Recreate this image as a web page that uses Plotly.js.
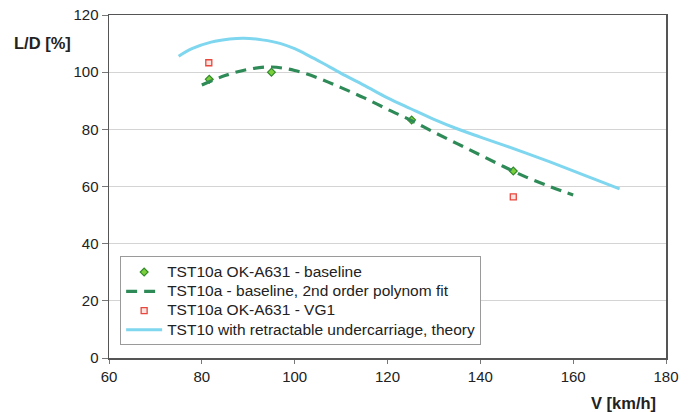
<!DOCTYPE html>
<html>
<head>
<meta charset="utf-8">
<script src="https://cdn.plot.ly/plotly-3.0.1.min.js"></script>
<style>
html,body{margin:0;padding:0;background:#fff;}
#chart{width:696px;height:412px;}
</style>
</head>
<body>
<div id="chart"></div>
<script>
// Measured data
var baselineV = [81.6, 95.0, 125.2, 147.1];
var baselineLD = [97.5, 100.0, 83.3, 65.4];

var fitV = [80, 85, 90, 95, 100, 105, 110, 115, 120, 125, 130, 135, 140, 145, 150, 155, 160];
var fitLD = [95.5, 98.8, 101.0, 101.8, 100.6, 98.0, 94.6, 91.0, 87.0, 83.2, 79.0, 75.0, 71.0, 67.0, 63.2, 60.0, 57.0];

var vg1V = [81.5, 147.1];
var vg1LD = [103.3, 56.4];

var theoryV = [75, 78, 82, 86, 89, 93, 97, 100, 103, 106, 110, 115, 120, 125, 130, 135, 140, 145, 150, 155, 160, 165, 170];
var theoryLD = [105.6, 108.3, 110.5, 111.6, 111.9, 111.3, 110.0, 108.2, 105.8, 103.2, 99.6, 95.4, 91.0, 87.2, 83.5, 80.2, 77.3, 74.5, 71.6, 68.6, 65.5, 62.3, 59.2];

var seriesNames = [
  'TST10a OK-A631 - baseline',
  'TST10a - baseline, 2nd order polynom fit',
  'TST10a OK-A631 - VG1',
  'TST10 with retractable undercarriage, theory'
];

var xTicks = [60, 80, 100, 120, 140, 160, 180];
var yTicks = [0, 20, 40, 60, 80, 100, 120];

var font = 'Liberation Sans, Arial, sans-serif';
function legendName(s) { return '<span style="font-size:15.5px">' + s + '</span>'; }

var traces = [
  {
    x: baselineV, y: baselineLD, name: legendName(seriesNames[0]), mode: 'markers', type: 'scatter',
    marker: {symbol: 'diamond', size: 6, color: '#7ccf3a', line: {color: '#2f8a2a', width: 1.2}}
  },
  {
    x: fitV, y: fitLD, name: legendName(seriesNames[1]), mode: 'lines', type: 'scatter',
    line: {color: '#2e8b57', width: 3.2, dash: '11px,7px', shape: 'spline'}
  },
  {
    x: vg1V, y: vg1LD, name: legendName(seriesNames[2]), mode: 'markers', type: 'scatter',
    marker: {symbol: 'square', size: 6, color: '#fbe3df', line: {color: '#e8473d', width: 1.3}}
  },
  {
    x: theoryV, y: theoryLD, name: legendName(seriesNames[3]), mode: 'lines', type: 'scatter',
    line: {color: '#7fd6ef', width: 3, shape: 'spline'}
  }
];

var layout = {
  width: 696, height: 412,
  margin: {l: 109, r: 30, t: 15, b: 54},
  paper_bgcolor: '#ffffff', plot_bgcolor: '#ffffff',
  font: {family: font, size: 15, color: '#222'},
  showlegend: true,
  legend: {
    x: 0.02, y: 0.296, xanchor: 'left', yanchor: 'top',
    bgcolor: '#ffffff', bordercolor: '#9a9a9a', borderwidth: 1,
    font: {family: font, size: 12.5, color: '#222'},
    tracegroupgap: 0, itemwidth: 36
  },
  xaxis: {
    range: [60, 180], tickmode: 'array', tickvals: xTicks, ticktext: xTicks.map(String),
    showgrid: false, zeroline: false,
    showline: true, linecolor: '#555', linewidth: 1.5, mirror: true,
    ticks: 'outside', ticklen: 4, tickcolor: '#777', tickwidth: 1,
    tickfont: {family: font, size: 15, color: '#222'}
  },
  yaxis: {
    range: [0, 120], tickmode: 'array', tickvals: yTicks, ticktext: yTicks.map(String),
    showgrid: true, gridcolor: '#d4d4d4', gridwidth: 1, zeroline: false,
    showline: true, linecolor: '#555', linewidth: 1.5, mirror: true,
    ticks: 'outside', ticklen: 6, tickcolor: '#777', tickwidth: 1,
    tickfont: {family: font, size: 15, color: '#222'}
  },
  annotations: [
    {text: '<b>L/D [%]</b>', xref: 'paper', yref: 'paper', x: -0.12, y: 0.918,
     xanchor: 'center', yanchor: 'middle', showarrow: false,
     font: {family: font, size: 16.5, color: '#222'}},
    {text: '<b>V [km/h]</b>', xref: 'paper', yref: 'paper', x: 0.986, y: -0.13,
     xanchor: 'right', yanchor: 'middle', showarrow: false,
     font: {family: font, size: 16.5, color: '#222'}}
  ]
};

Plotly.newPlot('chart', traces, layout, {displayModeBar: false, staticPlot: true});
</script>
</body>
</html>
